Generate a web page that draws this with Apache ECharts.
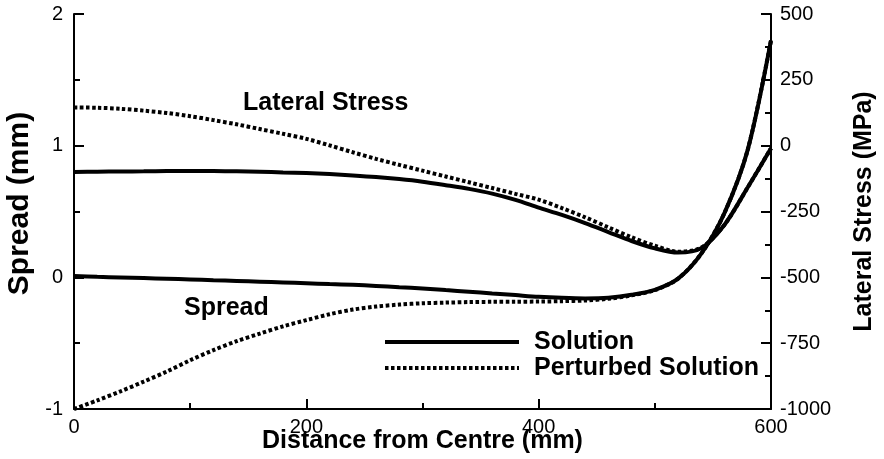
<!DOCTYPE html>
<html>
<head>
<meta charset="utf-8">
<script src="https://cdn.jsdelivr.net/npm/echarts@6/dist/echarts.min.js"></script>
<style>
html,body{margin:0;padding:0;background:#fff;}
#chart{width:884px;height:459px;}
</style>
</head>
<body>
<div id="chart"></div>
<script>
// Distance from centre (mm)
var distance = [0,20,40,60,80,100,120,140,160,180,200,220,240,260,280,300,320,340,360,380,400,420,440,460,480,500,520,540,560,580,600];
// Lateral stress (MPa) - right axis
var stressSolution  = [-100,-99,-98,-97.5,-96.5,-96,-96.5,-97.5,-99,-101.5,-104,-108,-113,-119,-127,-137,-150,-164,-182,-206,-235,-263,-294,-328,-362,-390,-406,-389,-300,-158,-10];
var stressPerturbed = [145,144,140,133,124,112,97,81,63,45,26,1,-25,-50,-73,-95,-117,-139,-161,-183,-205,-237,-272,-310,-348,-380,-403,-387,-300,-158,-10];
// Spread (mm) - left axis
var spreadSolution  = [0.01,0.004,-0.001,-0.006,-0.011,-0.016,-0.022,-0.027,-0.033,-0.039,-0.045,-0.051,-0.057,-0.065,-0.075,-0.085,-0.097,-0.109,-0.122,-0.135,-0.148,-0.156,-0.16,-0.155,-0.133,-0.095,-0.01,0.18,0.49,0.97,1.8];
var spreadPerturbed = [-1.0,-0.935,-0.866,-0.792,-0.715,-0.63,-0.553,-0.485,-0.427,-0.372,-0.325,-0.28,-0.245,-0.222,-0.207,-0.197,-0.192,-0.188,-0.186,-0.185,-0.184,-0.181,-0.176,-0.163,-0.137,-0.097,-0.01,0.18,0.49,0.97,1.8];

var seriesNames = ['Solution', 'Perturbed Solution'];
var curveLabels = ['Lateral Stress', 'Spread'];
var xTitle = 'Distance from Centre (mm)';
var yLeftTitle = 'Spread (mm)';
var yRightTitle = 'Lateral Stress (MPa)';

function pairs(xs, ys){ return xs.map(function(x,i){ return [x, ys[i]]; }); }

var FONT = '"Liberation Sans", Arial, Helvetica, sans-serif';
var solidStyle = { color:'#000', width:4, type:'solid' };
var dotStyle = { color:'#000', width:4, type:[3.5,2.5], cap:'butt' };

function axisCommon(){
  return {
    axisLine:{ show:true, onZero:false, lineStyle:{ color:'#000', width:2 } },
    axisTick:{ show:true, inside:true, length:10, lineStyle:{ color:'#000', width:2 } },
    minorTick:{ show:true, splitNumber:2, length:6, lineStyle:{ color:'#000', width:2 } },
    splitLine:{ show:false },
    minorSplitLine:{ show:false },
    nameMoveOverlap:false,
    axisLabel:{ color:'#000', fontSize:20, fontFamily:FONT, formatter:function(v){ return String(v); } },
    nameTextStyle:{ color:'#000', fontSize:25, fontWeight:'bold', fontFamily:FONT }
  };
}

var xAxis = Object.assign(axisCommon(), {
  type:'value', min:0, max:600, interval:200,
  name:xTitle, nameLocation:'middle', nameGap:20
});
xAxis.axisLabel = Object.assign({}, xAxis.axisLabel, { margin:8 });

var yLeft = Object.assign(axisCommon(), {
  type:'value', min:-1, max:2, interval:1, position:'left',
  name:yLeftTitle, nameLocation:'middle', nameRotate:90, nameGap:39
});
yLeft.axisLabel = Object.assign({}, yLeft.axisLabel, { margin:11 });
yLeft.nameTextStyle = Object.assign({}, yLeft.nameTextStyle, { fontSize:30, padding:[0,0,0,16] });

var yRight = Object.assign(axisCommon(), {
  type:'value', min:-1000, max:500, interval:250, position:'right',
  name:yRightTitle, nameLocation:'middle', nameRotate:90, nameGap:81
});
yRight.axisLabel = Object.assign({}, yRight.axisLabel, { margin:9 });

var chart = echarts.init(document.getElementById('chart'), null, { renderer:'canvas' });
chart.setOption({
  animation:false,
  backgroundColor:'#fff',
  color:['#000','#000'],
  grid:{ left:74, right:113, top:14, bottom:50, containLabel:false, outerBoundsMode:'none' },
  xAxis:xAxis,
  yAxis:[yLeft, yRight],
  legend:{
    data:seriesNames,
    orient:'vertical',
    left:383, top:329.5,
    padding:0,
    itemWidth:134, itemHeight:25, itemGap:1,
    itemStyle:{ opacity:0 },
    lineStyle:{ width:4 },
    textStyle:{ color:'#000', fontSize:25, fontWeight:'bold', fontFamily:FONT, padding:[0,0,0,10] }
  },
  graphic:[
    { type:'text', left:243, top:91, style:{ text:curveLabels[0], fill:'#000', font:'bold 25px ' + FONT } },
    { type:'text', left:184, top:296, style:{ text:curveLabels[1], fill:'#000', font:'bold 25px ' + FONT } }
  ],
  series:[
    { name:seriesNames[0], type:'line', yAxisIndex:1, data:pairs(distance, stressSolution), smooth:0.3, symbol:'none', itemStyle:{color:'#000'}, lineStyle:solidStyle, z:2 },
    { name:seriesNames[0], type:'line', yAxisIndex:0, data:pairs(distance, spreadSolution), smooth:0.3, symbol:'none', itemStyle:{color:'#000'}, lineStyle:solidStyle, z:2 },
    { name:seriesNames[1], type:'line', yAxisIndex:1, data:pairs(distance, stressPerturbed), smooth:0.3, symbol:'none', itemStyle:{color:'#000'}, lineStyle:dotStyle, z:3 },
    { name:seriesNames[1], type:'line', yAxisIndex:0, data:pairs(distance, spreadPerturbed), smooth:0.3, symbol:'none', itemStyle:{color:'#000'}, lineStyle:dotStyle, z:3 }
  ]
});
</script>
</body>
</html>
